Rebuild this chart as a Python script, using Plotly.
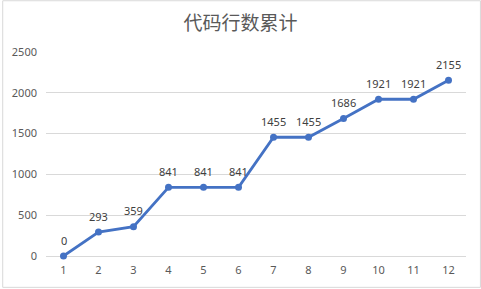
import plotly.graph_objects as go

categories = ["1", "2", "3", "4", "5", "6", "7", "8", "9", "10", "11", "12"]
values = [0, 293, 359, 841, 841, 841, 1455, 1455, 1686, 1921, 1921, 2155]
y_ticks = [0, 500, 1000, 1500, 2000, 2500]

W, H = 481, 289
L, R, T, B = 44, 15, 52, 32
pw, ph = W - L - R, H - T - B

fig = go.Figure()
fig.add_trace(go.Scatter(
    x=categories, y=values, mode="lines+markers",
    line=dict(color="#4472C4", width=2.8),
    marker=dict(color="#4472C4", size=7),
    cliponaxis=False, hoverinfo="skip",
))
for i, v in enumerate(values):
    # category axes place annotations by category index
    fig.add_annotation(x=i, y=v, text=str(v), showarrow=False, yshift=16, yanchor="middle",
                       font=dict(size=11, color="#404040", family="Noto Sans, sans-serif"))
fig.update_layout(
    width=W, height=H, margin=dict(l=L, r=R, t=T, b=B),
    paper_bgcolor="white", plot_bgcolor="white", showlegend=False,
    title=dict(text="代码行数累计", x=0.5, xanchor="center", y=1 - 23 / H, yanchor="middle",
               font=dict(size=19, color="#595959", family="Noto Sans CJK SC")),
    xaxis=dict(type="category", range=[-0.5, 11.5], showgrid=False, showline=False, zeroline=False,
               ticks="", ticklabelstandoff=6,
               tickfont=dict(size=11, color="#595959", family="Noto Sans, sans-serif")),
    yaxis=dict(range=[0, 2500], tickvals=y_ticks, showgrid=True, gridcolor="#D9D9D9", gridwidth=1,
               zeroline=True, zerolinecolor="#D9D9D9", zerolinewidth=1, showline=False, ticks="",
               ticklabelstandoff=8,
               tickfont=dict(size=11, color="#595959", family="Noto Sans, sans-serif")),
    shapes=[dict(type="rect", xref="paper", yref="paper",
                 x0=(0.5 - L) / pw, x1=(W - 0.5 - L) / pw,
                 y0=-(B - 0.5) / ph, y1=1 + (T - 0.5) / ph,
                 line=dict(color="#D9D9D9", width=1), layer="below")],
)
fig.write_html("out.html")
